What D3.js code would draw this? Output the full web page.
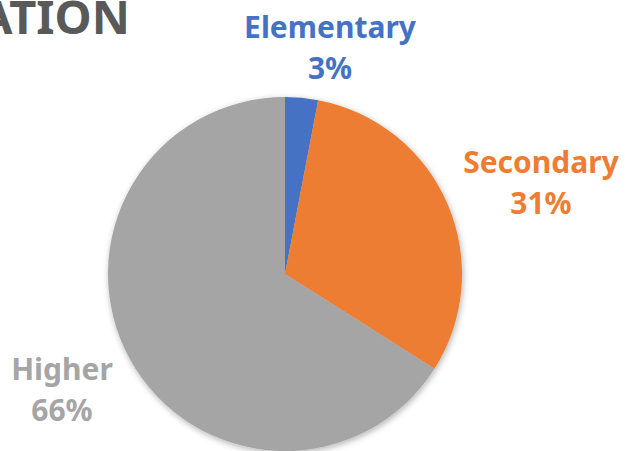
<!DOCTYPE html>
<html lang="en">
<head>
  <meta charset="UTF-8">
  <title>Education</title>
  <script src="https://d3js.org/d3.v7.min.js"></script>
  <style>
    html, body { margin: 0; padding: 0; background: #fff; overflow: hidden; }
  </style>
</head>
<body>
<svg></svg>
<script>
  // data
  const categories = ['Elementary', 'Secondary', 'Higher']
  const shares = [3, 31, 66]
  const colors = ['#4472C4', '#ED7D31', '#A5A5A5']
  const title = 'EDUCATION'

  const width = 625, height = 451
  const cx = 285, cy = 274, radius = 177

  // where each two-line label sits (centre x, first baseline)
  const labelAt = {
    Elementary: [330, 38],
    Secondary: [541, 173],
    Higher: [62, 380]
  }

  const dataset = categories.map((c, i) => ({name: c, value: shares[i]}))

  const svg = d3.select('svg')
      .attr('width', width)
      .attr('height', height)
      .attr('viewBox', [0, 0, width, height])
      .attr('font-family', '"Noto Sans", "Open Sans", sans-serif')
      .attr('font-weight', 'bold')

  // soft shadow round the pie
  const filter = svg.append('defs').append('filter')
      .attr('id', 'shadow')
      .attr('x', '-10%').attr('y', '-10%')
      .attr('width', '120%').attr('height', '120%')
  filter.append('feDropShadow')
      .attr('dx', 1).attr('dy', 2)
      .attr('stdDeviation', 3)
      .attr('flood-color', '#000')
      .attr('flood-opacity', 0.3)

  // title, cut off at the left edge like the source slide
  svg.append('text')
      .attr('x', 130)
      .attr('y', 34)
      .attr('text-anchor', 'end')
      .attr('font-size', '47px')
      .attr('fill', '#595959')
      .text(title)

  const color = d3.scaleOrdinal().domain(categories).range(colors)

  const pie = d3.pie().sort(null).value(d => d.value)
  const arc = d3.arc().innerRadius(0).outerRadius(radius)

  const g = svg.append('g')
      .attr('transform', `translate(${cx},${cy})`)
      .attr('filter', 'url(#shadow)')

  g.selectAll('path')
      .data(pie(dataset))
      .join('path')
      .attr('d', arc)
      .attr('fill', d => color(d.data.name))

  // labels: name and percent
  const total = d3.sum(shares)
  const label = svg.selectAll('text.label')
      .data(dataset)
      .join('text')
      .attr('class', 'label')
      .attr('text-anchor', 'middle')
      .attr('font-size', '30px')
      .attr('fill', d => color(d.name))

  label.append('tspan')
      .attr('x', d => labelAt[d.name][0])
      .attr('y', d => labelAt[d.name][1])
      .text(d => d.name)

  label.append('tspan')
      .attr('x', d => labelAt[d.name][0])
      .attr('y', d => labelAt[d.name][1] + 41)
      .text(d => Math.round(d.value / total * 100) + '%')
</script>
</body>
</html>
